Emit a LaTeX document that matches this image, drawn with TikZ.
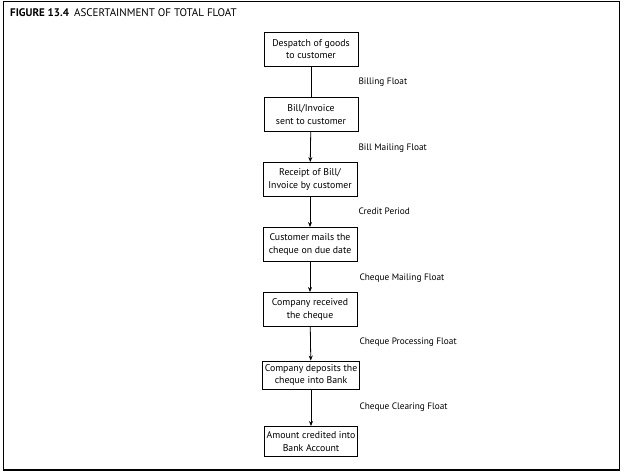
\documentclass[tikz,border=0pt]{standalone}
\usepackage{fontspec}
\setmainfont{PT Sans}
\usetikzlibrary{arrows.meta}
\begin{document}
\begin{tikzpicture}[x=1pt,y=-1pt,
  stepbox/.style={draw,line width=0.9pt,minimum width=94pt,minimum height=34pt,align=center,font=\fontsize{9.8}{12.8}\selectfont,inner sep=2pt},
  lbl/.style={anchor=west,font=\fontsize{9.3}{11}\selectfont},
  conn/.style={line width=0.8pt,-{Stealth[length=5pt,width=4pt]}}]
\useasboundingbox (0,0) rectangle (624,474);
\draw[line width=0.9pt] (3,1) rectangle (619,470);
\draw[line width=1.8pt] (3,470) -- (619,470);
\node[anchor=base west,font=\fontsize{11}{12}\selectfont,inner sep=0pt] (title) at (10,16) {\textbf{FIGURE 13.4}\hspace{5pt}ASCERTAINMENT OF TOTAL FLOAT};
\node[stepbox] (b1) at (311,49) {Despatch of goods\\to customer};
\node[stepbox] (b2) at (311,114.5) {Bill/Invoice\\sent to customer};
\node[stepbox] (b3) at (310,179.5) {Receipt of Bill/\\Invoice by customer};
\node[stepbox] (b4) at (310,244.5) {Customer mails the\\cheque on due date};
\node[stepbox] (b5) at (310,309.5) {Company received\\the cheque};
\node[stepbox,minimum width=88pt,minimum height=28pt] (b6) at (311,375) {Company deposits the\\cheque into Bank};
\node[stepbox,minimum width=90pt,minimum height=30pt] (b7) at (311,441.5) {Amount credited into\\Bank Account};
\draw[line width=0.8pt] (b1) -- (b2);
\draw[conn] (b2) -- (b3);
\draw[conn] (b3) -- (b4);
\draw[conn] (b4) -- (b5);
\draw[conn] (b5) -- (b6);
\draw[conn] (b6) -- (b7);
\node[lbl] (l1) at (355,82) {Billing Float};
\node[lbl] (l2) at (355,148) {Bill Mailing Float};
\node[lbl] (l3) at (355,211) {Credit Period};
\node[lbl] (l4) at (356,278) {Cheque Mailing Float};
\node[lbl] (l5) at (356,342) {Cheque Processing Float};
\node[lbl] (l6) at (356,407) {Cheque Clearing Float};
\end{tikzpicture}
\end{document}
